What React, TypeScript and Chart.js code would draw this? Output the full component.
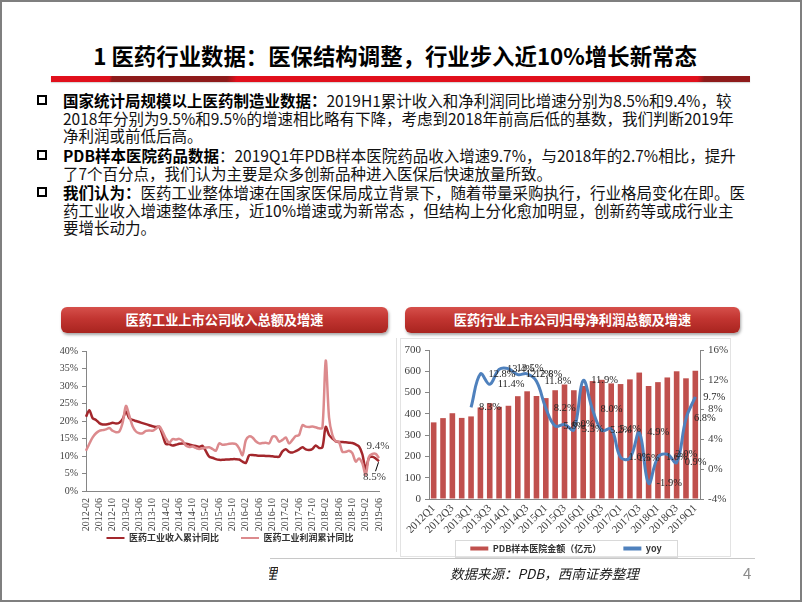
import React, { useEffect, useRef } from "react";
import { Chart, registerables } from "chart.js";

Chart.register(...registerables);

// ---------- Left chart data (monthly cumulative YoY, %) ----------
const monthLabels: string[] = (() => {
  const out: string[] = [];
  for (let y = 2012; y <= 2019; y++) {
    for (let m = 1; m <= 12; m++) {
      if (y === 2012 && m < 2) continue;
      if (y === 2019 && m > 6) break;
      out.push(`${y}-${String(m).padStart(2, "0")}`);
    }
  }
  return out;
})();

const revenueYoY: number[] = [
  21.2, 23.1, 20.8, 20.3, 19.4, 19.0, 19.0, 19.2, 19.5, 19.3, 19.5,
  20.5, 22.7, 20.8, 20.3, 20.0, 19.7, 19.4, 19.1, 18.8, 18.5, 18.3, 18.3,
  16.0, 13.4, 13.4, 13.0, 13.2, 13.5, 13.6, 13.5, 13.3, 13.0, 12.9, 12.6,
  12.9, 11.4, 9.8, 9.5, 9.1, 8.9, 8.9, 9.0, 9.0, 9.1, 9.1, 9.0,
  8.4, 8.0, 10.2, 10.3, 10.2, 10.1, 10.1, 10.0, 10.0, 9.9, 9.8, 9.8,
  11.3, 11.9, 11.2, 11.0, 11.4, 11.9, 12.5, 11.9, 11.7, 12.0, 13.0, 12.3,
  12.5, 18.3, 16.0, 15.0, 14.2, 14.0, 14.0, 13.9, 13.8, 13.7, 13.3, 12.7,
  10.5, 6.3, 9.5, 9.8, 9.3, 8.5,
];

const profitYoY: number[] = [
  11.5, 13.5, 15.3, 16.5, 17.2, 17.4, 17.6, 18.0, 17.2, 16.8, 17.0,
  19.5, 24.3, 21.5, 18.5, 17.0, 16.5, 16.5, 17.2, 17.3, 17.2, 17.8, 18.5,
  17.0, 15.0, 13.8, 14.8, 14.7, 14.9, 14.3, 13.0, 12.6, 12.7, 12.3, 12.0,
  12.2, 12.4, 12.5, 12.0, 11.5, 13.6, 13.2, 13.3, 13.5, 13.6, 13.4, 12.2,
  10.2, 14.5, 15.6, 15.3, 14.2, 13.6, 13.7, 13.8, 13.6, 15.5, 15.5, 14.1,
  14.6, 15.3, 13.6, 14.6, 15.7, 16.0, 18.8, 18.4, 18.3, 18.4, 18.2, 17.9,
  18.0, 37.3, 21.0, 16.0, 14.2, 14.0, 11.2, 11.2, 11.5, 10.8, 8.4, 9.3,
  7.9, 4.6, 9.8, 10.6, 10.6, 9.4,
];

const leftSeriesNames: string[] = ["医药工业收入累计同比", "医药工业利润累计同比"];

// ---------- Right chart data (quarterly) ----------
const quarters: string[] = [
  "2012Q1", "2012Q2", "2012Q3", "2012Q4",
  "2013Q1", "2013Q2", "2013Q3", "2013Q4",
  "2014Q1", "2014Q2", "2014Q3", "2014Q4",
  "2015Q1", "2015Q2", "2015Q3", "2015Q4",
  "2016Q1", "2016Q2", "2016Q3", "2016Q4",
  "2017Q1", "2017Q2", "2017Q3", "2017Q4",
  "2018Q1", "2018Q2", "2018Q3", "2018Q4",
  "2019Q1",
];

const pdbSales: number[] = [
  360, 380, 403, 381,
  388, 430, 450, 433,
  438, 483, 506, 484,
  474, 511, 538, 511,
  531, 554, 560, 543,
  540, 562, 594, 531,
  549, 571, 600, 567,
  603,
];

const pdbYoY: (number | null)[] = [
  null, null, null, null,
  8.3, 12.8, 11.4, 13.4,
  13.5, 12.7, 12.8, 11.8,
  8.2, 5.8, 6.0, 5.3,
  11.9, 8.0, 5.2, 5.4,
  1.6, 1.5, 4.9, -1.9,
  1.6, 2.0, 0.9, 6.8,
  9.7,
];

const rightSeriesNames: string[] = ["PDB样本医院金额（亿元）", "yoy"];

const SERIF = "'Liberation Serif', 'Times New Roman', serif";
const CJK = "'Noto Sans CJK SC', 'Noto Sans', sans-serif";
const AXIS = "#868686";

const legendLabels = (c: any) =>
  Chart.defaults.plugins.legend.labels
    .generateLabels(c)
    .map((it: any) => ({ ...it, lineWidth: 0 }))
    .sort((a: any, b: any) => a.datasetIndex - b.datasetIndex);

const shiftLegend = (dx: number, dy: number) => ({
  id: "shiftLegend",
  afterLayout(chart: any) {
    const l = chart.legend;
    if (!l) return;
    l.left += dx;
    l.right += dx;
    l.top += dy;
    l.bottom += dy;
  },
});

function LeftChart() {
  const ref = useRef<HTMLCanvasElement | null>(null);
  useEffect(() => {
    if (!ref.current) return;
    const endLabels = {
      id: "endLabels",
      afterDatasetsDraw(chart: any) {
        const ctx = chart.ctx;
        const n = revenueYoY.length - 1;
        const dp = chart.getDatasetMeta(0).data[n];
        const lp = chart.getDatasetMeta(1).data[n];
        ctx.save();
        ctx.font = `11px ${SERIF}`;
        ctx.fillStyle = "#404040";
        ctx.textAlign = "center";
        ctx.textBaseline = "middle";
        ctx.fillText(profitYoY[n].toFixed(1) + "%", lp.x - 1, lp.y - 12);
        ctx.fillText(revenueYoY[n].toFixed(1) + "%", dp.x - 4.5, dp.y + 16);
        ctx.strokeStyle = "#000";
        ctx.lineWidth = 1;
        ctx.beginPath();
        ctx.moveTo(dp.x - 3.5, dp.y + 10);
        ctx.lineTo(dp.x - 0.5, dp.y + 1);
        ctx.stroke();
        ctx.restore();
      },
    };
    const chart = new Chart(ref.current, {
      type: "line",
      data: {
        labels: monthLabels,
        datasets: [
          {
            label: leftSeriesNames[0],
            data: revenueYoY,
            borderColor: "#A3272C",
            backgroundColor: "#A3272C",
            borderWidth: 2.5,
            pointRadius: 0,
            tension: 0.3,
            order: 1,
          },
          {
            label: leftSeriesNames[1],
            data: profitYoY,
            borderColor: "#DC8A8D",
            backgroundColor: "#DC8A8D",
            borderWidth: 2.5,
            pointRadius: 0,
            tension: 0.3,
            order: 0,
          },
        ],
      },
      options: {
        animation: false,
        responsive: false,
        layout: { padding: { top: 11, left: 0, right: 16, bottom: 0 } },
        plugins: {
          tooltip: { enabled: false },
          legend: {
            position: "bottom",
            labels: {
              boxWidth: 18,
              boxHeight: 2,
              padding: 22,
              color: "#333",
              font: { family: CJK, size: 9, weight: "bold" },
              generateLabels: legendLabels,
            },
          },
        },
        scales: {
          x: {
            grid: { display: false, drawTicks: false },
            border: { display: true, color: AXIS },
            ticks: {
              autoSkip: false,
              maxRotation: 90,
              minRotation: 90,
              padding: 7,
              color: "#404040",
              font: { family: SERIF, size: 10 },
              callback: (_v: any, i: number) => (i % 4 === 0 ? monthLabels[i] : ""),
            },
            afterFit: (s: any) => {
              s.height = 44;
            },
          },
          y: {
            min: 0,
            max: 40,
            grid: { drawOnChartArea: false, drawTicks: true, tickLength: 4, color: AXIS },
            border: { display: true, color: AXIS },
            ticks: {
              stepSize: 5,
              padding: 4,
              color: "#404040",
              font: { family: SERIF, size: 10 },
              callback: (v: any) => v + "%",
            },
            afterFit: (s: any) => {
              s.width = 46;
            },
          },
        },
      } as any,
      plugins: [endLabels, shiftLegend(19, -23.5)],
    });
    return () => chart.destroy();
  }, []);
  return (
    <canvas
      ref={ref}
      width={358}
      height={236}
      style={{ position: "absolute", left: 40, top: 340, width: 358, height: 236 }}
    />
  );
}

function RightChart() {
  const ref = useRef<HTMLCanvasElement | null>(null);
  useEffect(() => {
    if (!ref.current) return;
    const labelsPlugin = {
      id: "yoyLabels",
      afterDatasetsDraw(chart: any) {
        const ctx = chart.ctx;
        const meta = chart.getDatasetMeta(1);
        ctx.save();
        ctx.font = `10.5px ${SERIF}`;
        ctx.fillStyle = "#262626";
        ctx.textAlign = "left";
        ctx.textBaseline = "middle";
        meta.data.forEach((pt: any, i: number) => {
          const v = pdbYoY[i];
          if (v === null || v === undefined) return;
          ctx.fillText(v.toFixed(1) + "%", pt.x + 8, pt.y);
        });
        ctx.restore();
      },
      afterDraw(chart: any) {
        const boxes = chart.legend?.legendHitBoxes;
        if (!boxes || !boxes.length) return;
        const ctx = chart.ctx;
        const minX = Math.min(...boxes.map((b: any) => b.left));
        const maxX = Math.max(...boxes.map((b: any) => b.left + b.width));
        const cy = boxes[0].top + boxes[0].height / 2;
        ctx.save();
        ctx.strokeStyle = "#D9D9D9";
        ctx.lineWidth = 1;
        ctx.strokeRect(Math.round(minX - 15) + 0.5, Math.round(cy - 8.5) + 0.5, Math.round(maxX - minX + 31), 17);
        ctx.restore();
      },
    };
    const chart = new Chart(ref.current, {
      type: "bar",
      data: {
        labels: quarters,
        datasets: [
          {
            type: "bar",
            label: rightSeriesNames[0],
            data: pdbSales,
            backgroundColor: "#C0504D",
            yAxisID: "y",
            categoryPercentage: 1,
            barPercentage: 0.6,
            order: 2,
          },
          {
            type: "line",
            label: rightSeriesNames[1],
            data: pdbYoY,
            borderColor: "#4F81BD",
            backgroundColor: "#4F81BD",
            borderWidth: 3,
            pointRadius: 0,
            tension: 0.4,
            yAxisID: "y1",
            order: 1,
          },
        ],
      } as any,
      options: {
        animation: false,
        responsive: false,
        layout: { padding: { top: 12, left: 0, right: 0, bottom: 0 } },
        plugins: {
          tooltip: { enabled: false },
          legend: {
            position: "bottom",
            labels: {
              boxWidth: 18,
              boxHeight: 4,
              padding: 22,
              color: "#333",
              font: { family: CJK, size: 9, weight: "bold" },
              generateLabels: legendLabels,
            },
          },
        },
        scales: {
          x: {
            grid: { display: false, drawTicks: false },
            border: { display: true, color: AXIS },
            ticks: {
              autoSkip: false,
              maxRotation: 45,
              minRotation: 45,
              padding: 3,
              color: "#404040",
              font: { family: SERIF, size: 11 },
              callback: (_v: any, i: number) => (i % 2 === 0 ? quarters[i] : ""),
            },
            afterFit: (s: any) => {
              s.height = 34;
            },
          },
          y: {
            position: "left",
            min: 0,
            max: 700,
            grid: { drawOnChartArea: false, drawTicks: true, tickLength: 4, color: AXIS },
            border: { display: true, color: AXIS },
            ticks: {
              stepSize: 100,
              padding: 4,
              color: "#404040",
              font: { family: SERIF, size: 11 },
            },
            afterFit: (s: any) => {
              s.width = 29;
            },
          },
          y1: {
            position: "right",
            min: -4,
            max: 16,
            grid: { drawOnChartArea: false, drawTicks: true, tickLength: 4, color: AXIS },
            border: { display: true, color: AXIS },
            ticks: {
              stepSize: 2,
              padding: 4,
              color: "#404040",
              font: { family: SERIF, size: 11 },
              callback: (v: any) => v + "%",
            },
            afterFit: (s: any) => {
              s.width = 32;
            },
          },
        },
      } as any,
      plugins: [labelsPlugin, shiftLegend(0, -11)],
    });
    return () => chart.destroy();
  }, []);
  return (
    <canvas
      ref={ref}
      width={332}
      height={236}
      style={{ position: "absolute", left: 400, top: 338, width: 332, height: 236 }}
    />
  );
}

const bulletStyle: React.CSSProperties = {
  position: "absolute",
  left: 37,
  width: 6,
  height: 6,
  border: "2px solid #000",
};

function Line({ top, children }: { top: number; children: React.ReactNode }) {
  return (
    <div
      style={{
        position: "absolute",
        left: 63,
        top,
        height: 18,
        lineHeight: "18px",
        whiteSpace: "nowrap",
        fontSize: 15.5,
        color: "#111",
      }}
    >
      {children}
    </div>
  );
}

const B = ({ children }: { children: React.ReactNode }) => (
  <span style={{ fontWeight: 700, color: "#000" }}>{children}</span>
);

function Banner({ left, width, text }: { left: number; width: number; text: string }) {
  return (
    <div
      style={{
        position: "absolute",
        left,
        top: 307,
        width,
        height: 26,
        borderRadius: 6,
        background: "linear-gradient(to bottom, #D6504B 0%, #C23531 45%, #A8241F 100%)",
        boxShadow: "1px 2px 3px rgba(0,0,0,0.35)",
        color: "#fff",
        fontWeight: 700,
        fontSize: 13.2,
        lineHeight: "26px",
        textAlign: "center",
        fontFamily: CJK,
      }}
    >
      {text}
    </div>
  );
}

export default function App() {
  return (
    <div
      style={{
        position: "fixed",
        left: 0,
        top: 0,
        width: 798,
        height: 598,
        border: "2px solid #7F7F7F",
        background: "#fff",
        fontFamily: CJK,
        overflow: "hidden",
      }}
    >
      <div style={{ position: "absolute", left: -2, top: -2, width: 802, height: 602 }}>
        {/* Title */}
        <div
          style={{
            position: "absolute",
            left: 0,
            width: 790,
            top: 40,
            height: 30,
            lineHeight: "30px",
            textAlign: "center",
            fontSize: 22.4,
            fontWeight: 700,
            color: "#000",
            whiteSpace: "nowrap",
          }}
        >
          1 医药行业数据：医保结构调整，行业步入近10%增长新常态
        </div>
        {/* Red rule */}
        <div
          style={{
            position: "absolute",
            left: 51,
            top: 76,
            width: 699,
            height: 6,
            background:
              "linear-gradient(100deg, #E1101C 0%, #E1101C 8.4%, #8E1B1B 8.8%, #8E1B1B 25.2%, #E1101C 26.6%, #E1101C 92.4%, #8E1B1B 93.4%, #8E1B1B 100%)",
            boxShadow: "0 1px 1px rgba(0,0,0,0.15)",
          }}
        />

        {/* Bullets */}
        <div style={{ ...bulletStyle, top: 95 }} />
        <Line top={91}>
          <B>国家统计局规模以上医药制造业数据：</B>2019H1累计收入和净利润同比增速分别为8.5%和9.4%，较
        </Line>
        <Line top={108.6}>2018年分别为9.5%和9.5%的增速相比略有下降，考虑到2018年前高后低的基数，我们判断2019年</Line>
        <Line top={126.2}>净利润或前低后高。</Line>

        <div style={{ ...bulletStyle, top: 150 }} />
        <Line top={146}>
          <B>PDB样本医院药品数据</B>：2019Q1年PDB样本医院药品收入增速9.7%，与2018年的2.7%相比，提升
        </Line>
        <Line top={163.6}>了7个百分点，我们认为主要是众多创新品种进入医保后快速放量所致。</Line>

        <div style={{ ...bulletStyle, top: 187 }} />
        <Line top={183}>
          <B>我们认为：</B>医药工业整体增速在国家医保局成立背景下，随着带量采购执行，行业格局变化在即。医
        </Line>
        <Line top={200.6}>药工业收入增速整体承压，近10%增速或为新常态 ，但结构上分化愈加明显，创新药等或成行业主</Line>
        <Line top={218.2}>要增长动力。</Line>

        {/* Banners */}
        <Banner left={61} width={327} text="医药工业上市公司收入总额及增速" />
        <Banner left={405} width={335} text="医药行业上市公司归母净利润总额及增速" />

        {/* Footer rule and remnants */}
        <div style={{ position: "absolute", left: 270, top: 558, width: 485, height: 1, background: "#C8C8C8" }} />
        <div style={{ position: "absolute", left: 396, top: 338, width: 1, height: 214, background: "#E0E0E0" }} />
        <div style={{ position: "absolute", left: 400, top: 338, width: 331, height: 219, border: "1px solid #E3E3E3", boxSizing: "border-box" }} />
        <div style={{ position: "absolute", left: 269, top: 563, width: 9, height: 20, overflow: "hidden" }}>
          <span style={{ position: "absolute", left: -7, top: 0, fontSize: 15, fontStyle: "italic", lineHeight: "20px", color: "#222" }}>理</span>
        </div>

        <LeftChart />
        <RightChart />

        <div
          style={{
            position: "absolute",
            left: 450,
            top: 563,
            height: 20,
            lineHeight: "20px",
            fontSize: 13.5,
            fontStyle: "italic",
            color: "#1a1a1a",
            whiteSpace: "nowrap",
          }}
        >
          数据来源：PDB，西南证券整理
        </div>
        <div
          style={{
            position: "absolute",
            left: 743,
            top: 563,
            height: 20,
            lineHeight: "20px",
            fontSize: 15,
            color: "#8C8C8C",
          }}
        >
          4
        </div>
      </div>
    </div>
  );
}
